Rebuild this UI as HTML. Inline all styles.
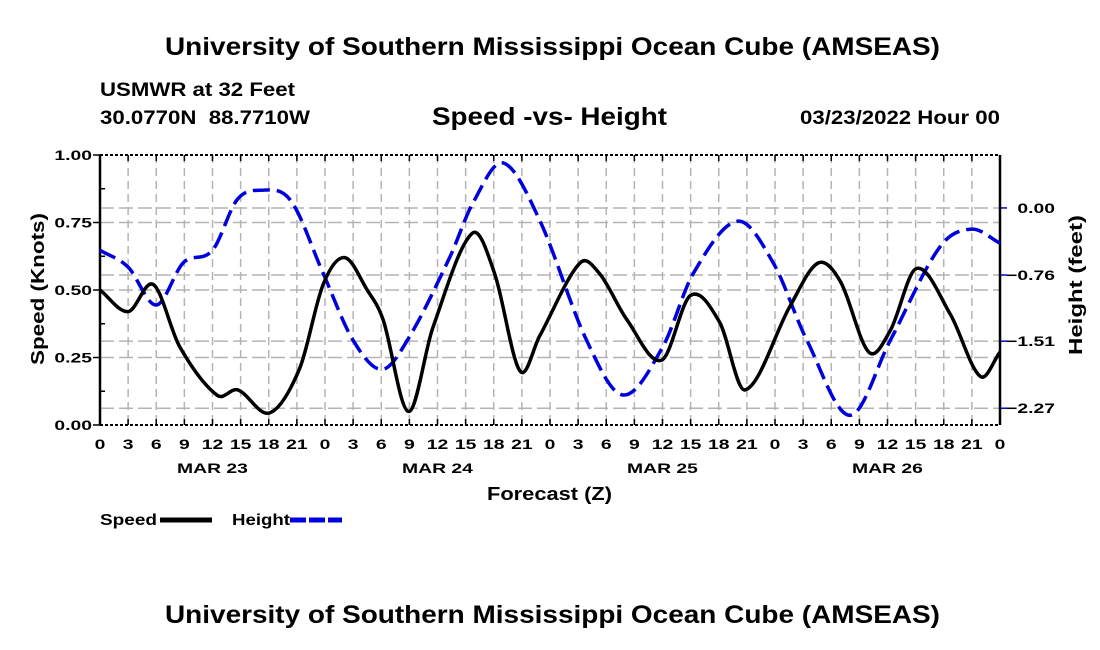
<!DOCTYPE html>
<html><head><meta charset="utf-8"><style>
html,body{margin:0;padding:0;background:#fff;}
svg{display:block;font-family:"Liberation Sans",sans-serif;font-weight:bold;}
</style></head><body>
<svg id="chart" width="1100" height="650" viewBox="0 0 1100 650">
<text x="165" y="55" font-size="25" data-sx="775">University of Southern Mississippi Ocean Cube (AMSEAS)</text>
<text x="100" y="96" font-size="19" data-sx="195">USMWR at 32 Feet</text>
<text x="100" y="124" font-size="19" data-sx="210" xml:space="preserve">30.0770N  88.7710W</text>
<text x="432" y="125" font-size="25" data-sx="235">Speed -vs- Height</text>
<text x="800" y="124" font-size="19" data-sx="200">03/23/2022 Hour 00</text>
<g id="grid"></g>
<g id="axes"></g>
<g id="series"></g>
<text x="487" y="500" font-size="18" data-sx="125">Forecast (Z)</text>
<text transform="translate(44,365) rotate(-90)" font-size="18" data-sx="152">Speed (Knots)</text>
<text transform="translate(1082,355) rotate(-90)" font-size="18" data-sx="140">Height (feet)</text>
<g>
<text x="100" y="525" font-size="16" data-sx="57">Speed</text>
<line x1="160" y1="520" x2="212" y2="520" stroke="#000" stroke-width="5"/>
<text x="232" y="525" font-size="16" data-sx="58">Height</text>
<line x1="290" y1="520" x2="342" y2="520" stroke="#0000dd" stroke-width="5" stroke-dasharray="16,3"/>
</g>
<text x="165" y="623" font-size="25" data-sx="775">University of Southern Mississippi Ocean Cube (AMSEAS)</text>
</svg>
<script>
const speedHours=[0,3,5.7,8.5,12.5,14.7,18.1,21.3,23.8,26.1,28.5,30.2,32.9,35.5,39.7,42.1,44.8,46.9,51.2,53.3,56.2,59.9,63,66.1,68.8,73.6,76.6,79,82,84.3,87.1,90.7,93.9,96];
const speedVals=[0.50,0.42,0.52,0.29,0.11,0.13,0.045,0.21,0.52,0.62,0.50,0.39,0.05,0.36,0.71,0.56,0.20,0.33,0.60,0.56,0.39,0.24,0.48,0.38,0.13,0.44,0.60,0.53,0.27,0.35,0.58,0.41,0.18,0.27];
const heightHours=[0,3,6,8.9,12,14.6,17,20.3,23.8,27,30.1,33,37.3,39.8,43,46.9,51.9,55.8,60,63.3,68,71.8,75.4,80,84.3,89.6,93,96];
const heightVals=[-0.48,-0.67,-1.10,-0.62,-0.48,0.09,0.20,0.09,-0.74,-1.50,-1.83,-1.46,-0.56,0.06,0.51,-0.14,-1.50,-2.12,-1.58,-0.74,-0.15,-0.62,-1.50,-2.35,-1.50,-0.44,-0.24,-0.40];
const speedTicks=[0,0.25,0.5,0.75,1.0];
const speedTickLabels=["0.00","0.25","0.50","0.75","1.00"];
const heightTicks=[0,-0.76,-1.51,-2.27];
const heightTickLabels=["0.00","\u22120.76","\u22121.51","\u22122.27"];
const hourLabels=["0","3","6","9","12","15","18","21"];
const dayLabels=["MAR 23","MAR 24","MAR 25","MAR 26"];

const L=100,R=1000,T=155,B=425;
const xS=h=>L+(R-L)*h/96;
const yS=v=>B-(B-T)*v/1.0;
const hMax=0.60,hMin=-2.46;
const yH=v=>T+(hMax-v)/(hMax-hMin)*(B-T);
const NS="http://www.w3.org/2000/svg";
function mk(tag,attrs,parent){const e=document.createElementNS(NS,tag);for(const k in attrs)e.setAttribute(k,attrs[k]);parent.appendChild(e);return e;}
const grid=document.getElementById('grid'),axes=document.getElementById('axes'),series=document.getElementById('series');
const SX=1.38;
for(let h=0;h<=96;h+=3){
  const x=xS(h);
  if(h>0&&h<96){const g=mk('line',{x1:x,y1:T,x2:x,y2:B,stroke:'#b4b4b4','stroke-width':1.5,'stroke-dasharray':'8,5'},grid);
  
  }
  mk('line',{x1:x,y1:B,x2:x,y2:B-6,stroke:'#000','stroke-width':1.5},axes);
  mk('line',{x1:x,y1:T,x2:x,y2:T+6,stroke:'#000','stroke-width':1.5},axes);
  const lb=mk('text',{x:x,y:449,'text-anchor':'middle','font-size':14,'data-scale':SX},axes);
  lb.textContent=hourLabels[(h/3)%8];
  
  
}
dayLabels.forEach((d,i)=>{const lb=mk('text',{x:xS(12+24*i),y:473,'text-anchor':'middle','font-size':14,'data-scale':SX},axes);lb.textContent=d;

});
speedTicks.forEach((v,i)=>{const y=yS(v);
  if(v>0&&v<1){const g=mk('line',{x1:L,y1:y,x2:R,y2:y,stroke:'#b4b4b4','stroke-width':1.5,'stroke-dasharray':'14,5'},grid);
  
  }
  mk('line',{x1:L-7,y1:y,x2:L,y2:y,stroke:'#000','stroke-width':1.5},axes);
  const lb=mk('text',{x:92,y:y+5,'text-anchor':'end','font-size':14,'data-scale':SX},axes);lb.textContent=speedTickLabels[i];
  
  
});
for(let v=0.125;v<1;v+=0.25){mk('line',{x1:L,y1:yS(v),x2:L+5,y2:yS(v),stroke:'#000','stroke-width':1.5},axes);}
heightTicks.forEach((v,i)=>{const y=yH(v);
  const g=mk('line',{x1:L,y1:y,x2:R,y2:y,stroke:'#b4b4b4','stroke-width':1.5,'stroke-dasharray':'14,5'},grid);
  
  
  mk('line',{x1:R,y1:y,x2:R+7,y2:y,stroke:'#0000dd','stroke-width':1.5},axes);
  const lb=mk('text',{x:1055,y:y+5,'text-anchor':'end','font-size':14,'data-scale':SX},axes);lb.textContent=heightTickLabels[i];
  
  
});
mk('line',{x1:L,y1:T,x2:R,y2:T,stroke:'#000','stroke-width':2,'stroke-dasharray':'3,2'},axes);
mk('line',{x1:L,y1:B,x2:R,y2:B,stroke:'#000','stroke-width':2,'stroke-dasharray':'3,2'},axes);
mk('line',{x1:L,y1:T,x2:L,y2:B,stroke:'#000','stroke-width':2.5},axes);
mk('line',{x1:R,y1:T,x2:R,y2:B,stroke:'#000','stroke-width':2.5},axes);
function spline(pts){
  const n=pts.length,m=[];
  for(let i=0;i<n;i++){const a=pts[Math.max(0,i-1)],b=pts[Math.min(n-1,i+1)];m.push((b[1]-a[1])/(b[0]-a[0]));}
  let d='M'+pts[0][0].toFixed(1)+','+pts[0][1].toFixed(1);
  for(let i=0;i<n-1;i++){const p1=pts[i],p2=pts[i+1],dx=p2[0]-p1[0];
    d+=' C'+(p1[0]+dx/3).toFixed(1)+','+(p1[1]+m[i]*dx/3).toFixed(1)+' '+(p2[0]-dx/3).toFixed(1)+','+(p2[1]-m[i+1]*dx/3).toFixed(1)+' '+p2[0].toFixed(1)+','+p2[1].toFixed(1);}
  return d;}
const hp=mk('path',{d:spline(heightHours.map((h,i)=>[xS(h),yH(heightVals[i])])),fill:'none',stroke:'#0000dd','stroke-width':3.5,'stroke-dasharray':'17,7'},series);


const sp=mk('path',{d:spline(speedHours.map((h,i)=>[xS(h),yS(speedVals[i])])),fill:'none',stroke:'#000','stroke-width':3.5},series);


// stretch text widths to match the wide reference typeface
document.querySelectorAll('text').forEach(t=>{
  const w=t.getComputedTextLength();
  let target=null;
  if(t.hasAttribute('data-sx'))target=parseFloat(t.getAttribute('data-sx'));
  else if(t.hasAttribute('data-scale'))target=w*parseFloat(t.getAttribute('data-scale'));
  if(target&&w>0){t.setAttribute('textLength',target);t.setAttribute('lengthAdjust','spacingAndGlyphs');}
});
</script>
</body></html>
